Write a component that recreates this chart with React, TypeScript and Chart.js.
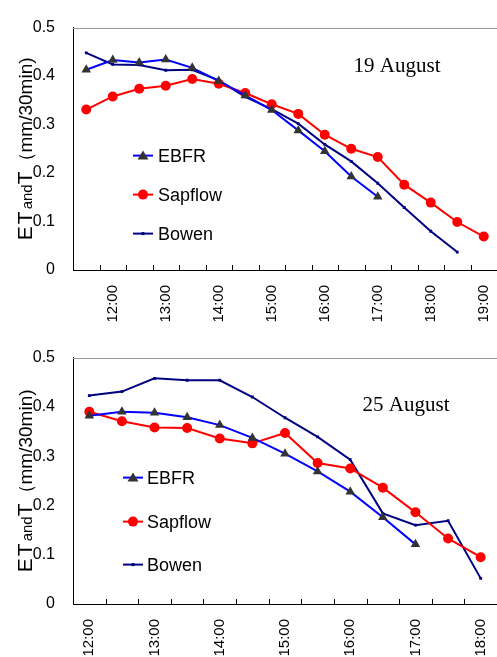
import React, { useEffect, useRef } from 'react';
import { Chart, registerables } from 'chart.js';

Chart.register(...registerables);

// ---- Data: 19 August ----
const labels19 = ['11:30', '12:00', '12:30', '13:00', '13:30', '14:00', '14:30', '15:00', '15:30', '16:00', '16:30', '17:00', '17:30', '18:00', '18:30', '19:00'];
const ebfr19 = [0.413, 0.433, 0.428, 0.434, 0.417, 0.390, 0.360, 0.330, 0.288, 0.245, 0.193, 0.151, null, null, null, null];
const sap19 = [0.331, 0.358, 0.374, 0.380, 0.394, 0.384, 0.365, 0.342, 0.322, 0.279, 0.250, 0.233, 0.176, 0.139, 0.099, 0.069];
const bowen19 = [0.448, 0.424, 0.423, 0.412, 0.413, 0.391, 0.357, 0.332, 0.302, 0.259, 0.224, 0.179, 0.129, 0.080, 0.037, null];

// ---- Data: 25 August ----
const labels25 = ['12:00', '12:30', '13:00', '13:30', '14:00', '14:30', '15:00', '15:30', '16:00', '16:30', '17:00', '17:30', '18:00'];
const ebfr25 = [0.382, 0.390, 0.388, 0.379, 0.363, 0.337, 0.305, 0.269, 0.228, 0.176, 0.121, null, null];
const sap25 = [0.390, 0.371, 0.358, 0.357, 0.336, 0.326, 0.347, 0.286, 0.275, 0.236, 0.186, 0.133, 0.095];
const bowen25 = [0.423, 0.431, 0.458, 0.454, 0.454, 0.420, 0.378, 0.339, 0.293, 0.184, 0.160, 0.169, 0.052];

const seriesNames = ['EBFR', 'Sapflow', 'Bowen'];
const yMin = 0;
const yMax = 0.5;
const yStep = 0.1;

const SANS = '"Liberation Sans", Arial, sans-serif';
const SERIF = '"Liberation Serif", "Times New Roman", serif';

const BLUE = '#0000FF';
const RED = '#FF0000';
const NAVY = '#000080';
const GREY_MARK = '#333333';

function drawMarker(ctx: CanvasRenderingContext2D, kind: number, x: number, y: number) {
  ctx.save();
  if (kind === 0) {
    ctx.fillStyle = GREY_MARK;
    ctx.beginPath();
    ctx.moveTo(x, y - 5);
    ctx.lineTo(x + 5.5, y + 4);
    ctx.lineTo(x - 5.5, y + 4);
    ctx.closePath();
    ctx.fill();
  } else if (kind === 1) {
    ctx.fillStyle = RED;
    ctx.beginPath();
    ctx.arc(x, y, 5, 0, Math.PI * 2);
    ctx.fill();
  } else {
    ctx.fillStyle = NAVY;
    ctx.fillRect(x - 1.5, y - 1.5, 3, 3);
  }
  ctx.restore();
}

const decorPlugin = {
  id: 'decor',
  afterDraw(chart: any, _args: any, opts: any) {
    const { ctx, chartArea: a } = chart;
    const xs = chart.scales.x;
    ctx.save();
    // grey top frame line
    ctx.strokeStyle = '#9a9a9a';
    ctx.lineWidth = 1;
    ctx.beginPath();
    ctx.moveTo(a.left, Math.round(a.top) + 0.5);
    ctx.lineTo(a.right, Math.round(a.top) + 0.5);
    ctx.stroke();

    // inside tick marks between categories
    const n = chart.data.labels.length;
    ctx.strokeStyle = '#000';
    for (let i = 1; i < n; i++) {
      const x = Math.round((xs.getPixelForValue(i - 1) + xs.getPixelForValue(i)) / 2) + 0.5;
      ctx.beginPath();
      ctx.moveTo(x, a.bottom);
      ctx.lineTo(x, a.bottom - 5);
      ctx.stroke();
    }

    // legend
    const colors = [BLUE, RED, NAVY];
    const lg = opts.legend;
    ctx.font = '18px ' + SANS;
    ctx.textBaseline = 'middle';
    ctx.textAlign = 'left';
    ctx.fillStyle = '#000';
    seriesNames.forEach((name, i) => {
      const y = a.top + lg.rows[i];
      const x0 = a.left + lg.x0;
      const x1 = a.left + lg.x1;
      ctx.strokeStyle = colors[i];
      ctx.lineWidth = 2;
      ctx.beginPath();
      ctx.moveTo(x0, y);
      ctx.lineTo(x1, y);
      ctx.stroke();
      drawMarker(ctx, i, (x0 + x1) / 2, y);
      ctx.fillStyle = '#000';
      ctx.fillText(name, a.left + lg.tx, y + 1);
    });

    // date title
    ctx.font = '21px ' + SERIF;
    ctx.textAlign = 'center';
    ctx.textBaseline = 'alphabetic';
    ctx.fillStyle = '#000';
    ctx.fillText(opts.title.text, opts.title.x, a.top + opts.title.dy);

    // y-axis title with mixed sizes
    const parts = [
      { t: 'ET', f: '21px ' + SANS, ls: 2 },
      { t: 'and', f: '15px ' + SANS, ls: 0 },
      { t: 'T', f: '21px ' + SANS, ls: 0 },
      { t: '\uFF08mm/30min)', f: '19px ' + SANS, ls: 0 },
    ];
    let total = 0;
    const widths: number[] = [];
    parts.forEach((p) => {
      ctx.font = p.f;
      (ctx as any).letterSpacing = p.ls + 'px';
      const w = ctx.measureText(p.t).width;
      widths.push(w);
      total += w;
    });
    const cy = (a.top + a.bottom) / 2;
    ctx.translate(32, cy);
    ctx.rotate(-Math.PI / 2);
    ctx.textAlign = 'left';
    ctx.textBaseline = 'alphabetic';
    let cx = -total / 2;
    parts.forEach((p, i) => {
      ctx.font = p.f;
      (ctx as any).letterSpacing = p.ls + 'px';
      ctx.fillText(p.t, cx, 0);
      cx += widths[i];
    });
    (ctx as any).letterSpacing = '0px';
    ctx.restore();
  },
};

type PanelProps = {
  labels: string[];
  ebfr: (number | null)[];
  sap: (number | null)[];
  bowen: (number | null)[];
  height: number;
  padTop: number;
  axisH: number;
  legend: any;
  title: any;
};

function Panel(p: PanelProps) {
  const ref = useRef<HTMLCanvasElement | null>(null);
  useEffect(() => {
    if (!ref.current) return;
    const chart = new Chart(ref.current, {
      type: 'line',
      data: {
        labels: p.labels,
        datasets: [
          {
            label: seriesNames[0],
            data: p.ebfr,
            borderColor: BLUE,
            borderWidth: 2,
            pointStyle: 'triangle',
            pointRadius: 5.5,
            pointBackgroundColor: GREY_MARK,
            pointBorderColor: GREY_MARK,
            pointBorderWidth: 0,
            tension: 0,
          },
          {
            label: seriesNames[1],
            data: p.sap,
            borderColor: RED,
            borderWidth: 2,
            pointStyle: 'circle',
            pointRadius: 5,
            pointBackgroundColor: RED,
            pointBorderColor: RED,
            pointBorderWidth: 0,
            tension: 0,
          },
          {
            label: seriesNames[2],
            data: p.bowen,
            borderColor: NAVY,
            borderWidth: 2,
            pointStyle: 'rect',
            pointRadius: 2,
            pointBackgroundColor: NAVY,
            pointBorderColor: NAVY,
            pointBorderWidth: 0,
            tension: 0,
          },
        ],
      },
      options: {
        responsive: false,
        animation: false,
        devicePixelRatio: 1,
        layout: { autoPadding: false, padding: { top: p.padTop, left: 0, right: 0, bottom: 0 } },
        plugins: {
          legend: { display: false },
          tooltip: { enabled: false },
          decor: { legend: p.legend, title: p.title },
        } as any,
        scales: {
          x: {
            type: 'category',
            offset: true,
            grid: { display: false, drawTicks: false },
            border: { display: true, color: '#000', width: 1 },
            ticks: {
              autoSkip: false,
              minRotation: 90,
              maxRotation: 90,
              padding: 15,
              color: '#000',
              font: { family: SANS, size: 15 },
              callback: function (this: any, v: any) {
                const l = this.getLabelForValue(v);
                return l.endsWith(':00') ? l : '';
              },
            },
            afterFit: (s: any) => {
              s.height = p.axisH;
              s.paddingLeft = 0;
              s.paddingRight = 0;
            },
          },
          y: {
            min: yMin,
            max: yMax,
            grid: { display: false, drawTicks: false },
            border: { display: true, color: '#000', width: 1 },
            ticks: {
              stepSize: yStep,
              padding: 18,
              color: '#000',
              font: { family: SANS, size: 16 },
              callback: (v: any) => (Number(v) === 0 ? '0' : Number(v).toFixed(1)),
            },
            afterFit: (s: any) => {
              s.width = 73;
            },
          },
        },
      },
      plugins: [decorPlugin],
    } as any);
    return () => chart.destroy();
  }, []);
  return <canvas ref={ref} width={497} height={p.height} style={{ display: 'block', width: 497, height: p.height }} />;
}

export default function App() {
  return (
    <div style={{ position: 'absolute', left: 0, top: 0, width: 497, height: 657, background: '#fff' }}>
      <Panel
        labels={labels19}
        ebfr={ebfr19}
        sap={sap19}
        bowen={bowen19}
        height={330}
        padTop={15}
        axisH={60}
        legend={{ x0: 60, x1: 80, tx: 85, rows: [128, 167, 206] }}
        title={{ text: '19 August', x: 397, dy: 44 }}
      />
      <Panel
        labels={labels25}
        ebfr={ebfr25}
        sap={sap25}
        bowen={bowen25}
        height={327}
        padTop={19}
        axisH={53}
        legend={{ x0: 50, x1: 70, tx: 74, rows: [120, 164, 207] }}
        title={{ text: '25 August', x: 406, dy: 53 }}
      />
    </div>
  );
}
